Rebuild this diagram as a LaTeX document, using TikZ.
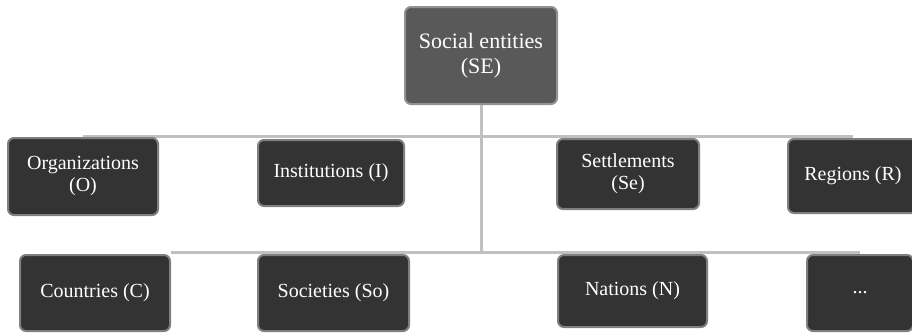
\documentclass[tikz,border=0pt]{standalone}
\usepackage{fontspec}
\setmainfont{Liberation Serif}
\usetikzlibrary{backgrounds}
\definecolor{boxdark}{HTML}{333333}
\definecolor{boxtop}{HTML}{595959}
\definecolor{boxrim}{HTML}{7F7F7F}
\definecolor{linkgray}{HTML}{C0C0C0}
\tikzset{
  entbox/.style={draw=boxrim, fill=boxdark, line width=2pt, rounded corners=6pt,
    text=white, align=center, inner sep=0pt,
    font=\fontsize{20}{22}\selectfont},
  enttop/.style={entbox, fill=boxtop, draw=boxrim!85,
    font=\fontsize{22}{25}\selectfont},
  entlink/.style={line width=3pt, draw=linkgray, line cap=butt},
}
\begin{document}
\begin{tikzpicture}[x=1pt, y=-1pt]
\useasboundingbox (0,0) rectangle (912,332);
\node[enttop, minimum width=152pt, minimum height=97pt] (SE) at (481,55.5) {Social entities\\(SE)};
\node[entbox, minimum width=150pt, minimum height=77pt] (O) at (83,176.5) {Organizations\\(O)};
\node[entbox, minimum width=146pt, minimum height=66pt] (I) at (331,173) {Institutions (I)};
\node[entbox, minimum width=142pt, minimum height=70pt] (Se) at (628,174) {Settlements\\(Se)};
\node[entbox, minimum width=130pt, minimum height=74pt] (R) at (853,176) {Regions (R)};
\node[entbox, minimum width=150pt, minimum height=76pt] (C) at (95,293) {Countries (C)};
\node[entbox, minimum width=151pt, minimum height=76pt] (So) at (333.5,293) {Societies (So)};
\node[entbox, minimum width=149pt, minimum height=72pt] (N) at (632.5,291) {Nations (N)};
\node[entbox, minimum width=106pt, minimum height=76pt] (D) at (860,293) {...};
\coordinate (hub) at (481,254);
\begin{scope}[on background layer]
\draw[entlink] (SE.south) -- (hub);
\draw[entlink] ([yshift=1pt]O.north) -- ([yshift=1pt]O.north -| R.north);
\draw[entlink] ([yshift=1.5pt]C.north east) -- ([yshift=1.5pt]C.north east -| D.north);
\end{scope}
\end{tikzpicture}
\end{document}
